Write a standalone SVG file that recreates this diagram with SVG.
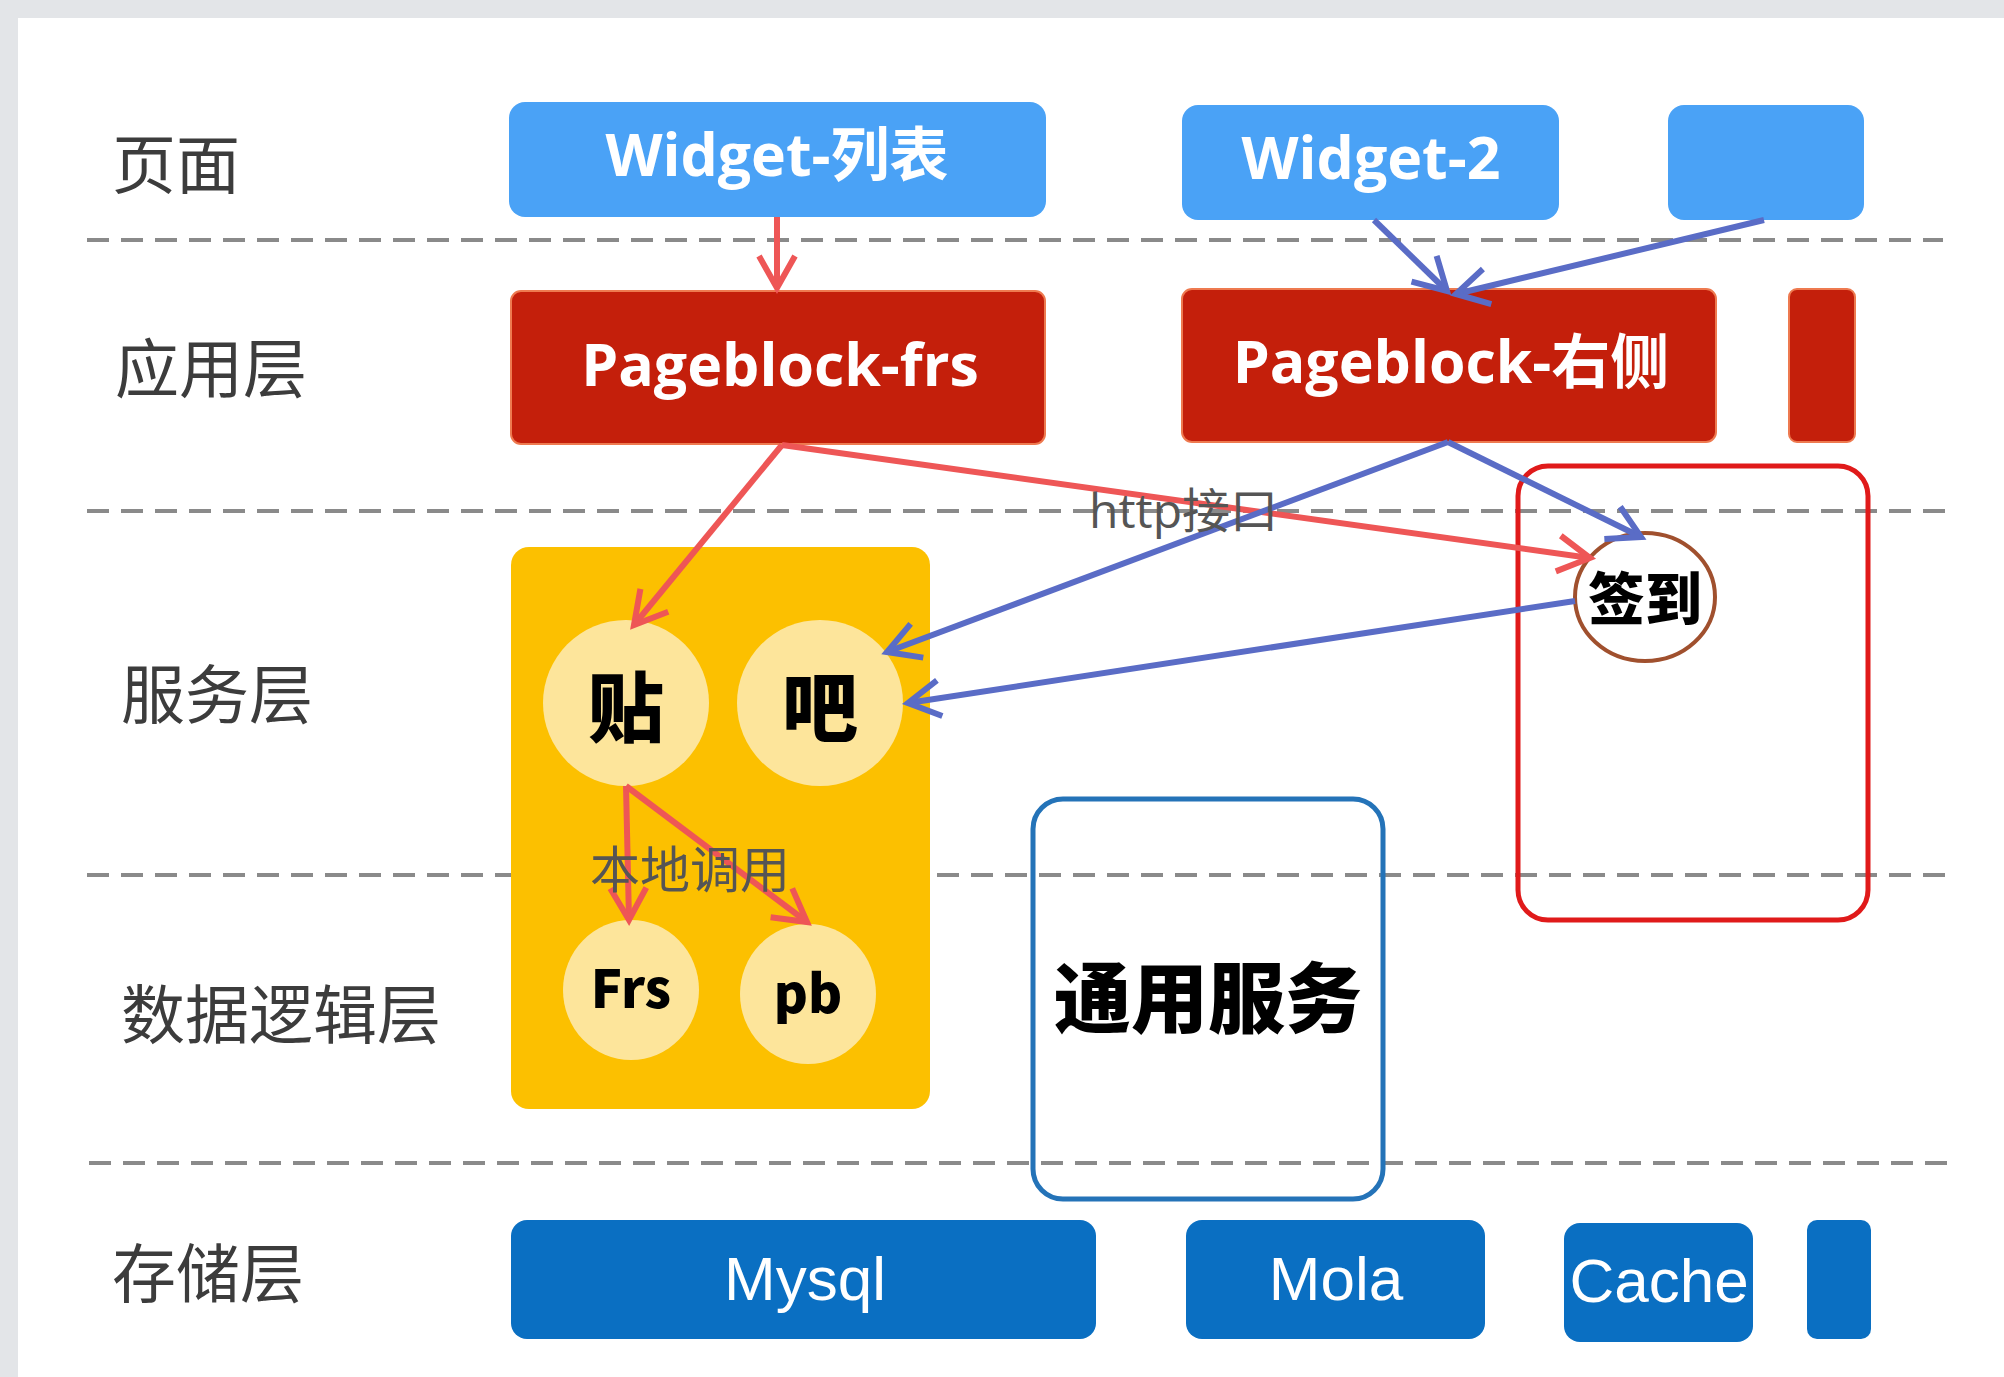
<svg xmlns="http://www.w3.org/2000/svg" width="2004" height="1377" viewBox="0 0 2004 1377">
<style>
.layer{font-family:"Noto Sans CJK SC","Noto Sans",sans-serif;font-size:64px;fill:#3c3c3c;dominant-baseline:central}
.dash{stroke:#8a8a8a;stroke-width:4;stroke-dasharray:22 12;fill:none}
.wtxt{font-family:"Open Sans","Noto Sans CJK SC",sans-serif;font-weight:bold;fill:#fff;text-anchor:middle;dominant-baseline:central}
.stxt{font-family:"Liberation Sans","Noto Sans CJK SC",sans-serif;fill:#fff;text-anchor:middle;dominant-baseline:central;font-size:62px}
.ctxt{font-family:"Noto Sans CJK SC","Open Sans",sans-serif;font-weight:900;fill:#000;text-anchor:middle;dominant-baseline:central}
.lbl{font-family:"Open Sans","Noto Sans CJK SC",sans-serif;fill:#555;dominant-baseline:central}
.widget{fill:#4AA2F6}
.pb{fill:#C41F0B;stroke:#EE7A50;stroke-width:2}
.store{fill:#0A6FC2}
.red{stroke:#EE5656;stroke-width:6;fill:none;marker-end:url(#ahR)}
.blue{stroke:#5A6CC6;stroke-width:6;fill:none;marker-end:url(#ahB)}
</style>
<defs>
<marker id="ahR" markerUnits="userSpaceOnUse" markerWidth="48" markerHeight="48" viewBox="0 0 48 48" refX="40" refY="24" orient="auto">
<path d="M8,6 L40,24 L8,42" fill="none" stroke="#EE5656" stroke-width="6"/>
</marker>
<marker id="ahB" markerUnits="userSpaceOnUse" markerWidth="48" markerHeight="48" viewBox="0 0 48 48" refX="40" refY="24" orient="auto">
<path d="M8,6 L40,24 L8,42" fill="none" stroke="#5A6CC6" stroke-width="6"/>
</marker>
</defs>
<rect x="0" y="0" width="2004" height="1377" fill="#E3E5E8"/>
<rect x="18" y="18" width="1990" height="1365" fill="#FFFFFF"/>

<g id="layer-labels">
<text class="layer" x="112" y="160">页面</text>
<text class="layer" x="115" y="364">应用层</text>
<text class="layer" x="121" y="690">服务层</text>
<text class="layer" x="121" y="1010">数据逻辑层</text>
<text class="layer" x="112" y="1269">存储层</text>
</g>

<g id="dividers">
<line class="dash" x1="87" y1="240" x2="1943" y2="240"/>
<line class="dash" x1="87" y1="511" x2="1948" y2="511"/>
<line class="dash" x1="87" y1="875" x2="1948" y2="875"/>
<line class="dash" x1="89" y1="1163" x2="1948" y2="1163"/>
</g>

<g id="widget-list"><rect class="widget" x="509" y="102" width="537" height="115" rx="16"/><text class="wtxt" x="777" y="153" font-size="59">Widget-列表</text></g>
<g id="widget-2"><rect class="widget" x="1182" y="105" width="377" height="115" rx="16"/><text class="wtxt" x="1371" y="156" font-size="59">Widget-2</text></g>
<g id="widget-3"><rect class="widget" x="1668" y="105" width="196" height="115" rx="16"/></g>

<g id="pageblock-frs"><rect class="pb" x="511" y="291" width="534" height="153" rx="10"/><text class="wtxt" x="780" y="363" font-size="59">Pageblock-frs</text></g>
<g id="pageblock-right"><rect class="pb" x="1182" y="289" width="534" height="153" rx="10"/><text class="wtxt" x="1451" y="360" font-size="59">Pageblock-右侧</text></g>
<g id="pageblock-3"><rect class="pb" x="1789" y="289" width="66" height="153" rx="8"/></g>

<g id="signin-group"><rect x="1518" y="466" width="350" height="454" rx="30" fill="none" stroke="#E01A1A" stroke-width="5"/></g>

<g id="service-box"><rect x="511" y="547" width="419" height="562" rx="18" fill="#FCC000"/></g>
<g id="tie"><circle cx="626" cy="703" r="83" fill="#FDE59B"/><text class="ctxt" x="626" y="703" font-size="76">贴</text></g>
<g id="ba"><circle cx="820" cy="703" r="83" fill="#FDE59B"/><text class="ctxt" x="820" y="703" font-size="76">吧</text></g>
<g id="frs"><ellipse cx="631" cy="990" rx="68" ry="70" fill="#FDE59B"/><text class="ctxt" x="631" y="985" font-size="52">Frs</text></g>
<g id="pb"><ellipse cx="808" cy="994" rx="68" ry="70" fill="#FDE59B"/><text class="ctxt" x="808" y="990" font-size="52">pb</text></g>

<g id="signin"><ellipse cx="1645" cy="597" rx="70" ry="64" fill="#FFFFFF" stroke="#A0502E" stroke-width="4"/><text class="ctxt" x="1645" y="595" font-size="57">签到</text></g>

<g id="common-service"><rect x="1033" y="799" width="350" height="400" rx="30" fill="none" stroke="#2473B8" stroke-width="5"/><text class="ctxt" x="1208" y="993" font-size="77">通用服务</text></g>

<g id="mysql"><rect class="store" x="511" y="1220" width="585" height="119" rx="16"/><text class="stxt" x="805" y="1278">Mysql</text></g>
<g id="mola"><rect class="store" x="1186" y="1220" width="299" height="119" rx="16"/><text class="stxt" x="1336" y="1278">Mola</text></g>
<g id="cache"><rect class="store" x="1564" y="1223" width="189" height="119" rx="16"/><text class="stxt" x="1659" y="1280">Cache</text></g>
<g id="storage-4"><rect class="store" x="1807" y="1220" width="64" height="119" rx="10"/></g>

<g id="connectors">
<line class="red" x1="777" y1="217" x2="777" y2="288"/>
<line class="red" x1="782" y1="445" x2="634" y2="625"/>
<line class="red" x1="782" y1="445" x2="1590" y2="558"/>
<line class="red" x1="626" y1="786" x2="629" y2="920"/>
<line class="red" x1="626" y1="786" x2="807" y2="922"/>
<line class="blue" x1="1374" y1="220" x2="1447" y2="291"/>
<line class="blue" x1="1764" y1="220" x2="1456" y2="294"/>
<line class="blue" x1="1448" y1="442" x2="887" y2="652"/>
<line class="blue" x1="1448" y1="442" x2="1641" y2="537"/>
<line class="blue" x1="1575" y1="601" x2="908" y2="703"/>
<text class="lbl" x="1089" y="509" font-size="48">http接口</text>
<text class="lbl" x="590" y="869" font-size="50">本地调用</text>
</g>
</svg>
